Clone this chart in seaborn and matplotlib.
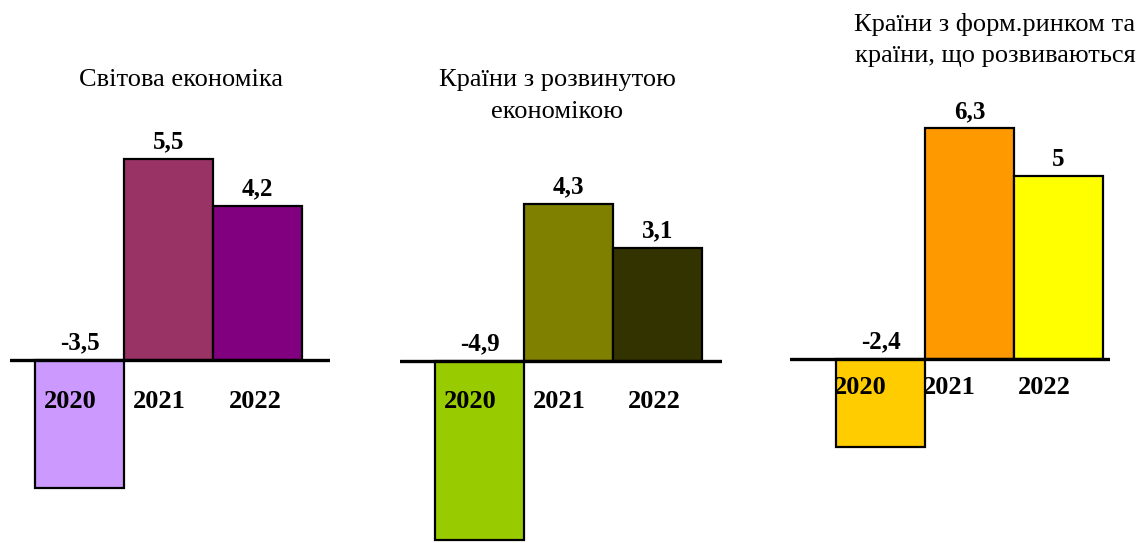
import matplotlib
matplotlib.use("Agg")
import matplotlib.pyplot as plt
import seaborn as sns
import pandas as pd

# ---- data ----
years = ["2020", "2021", "2022"]
world = [-3.5, 5.5, 4.2]
developed = [-4.9, 4.3, 3.1]
emerging = [-2.4, 6.3, 5.0]
value_labels_world = ["-3,5", "5,5", "4,2"]
value_labels_developed = ["-4,9", "4,3", "3,1"]
value_labels_emerging = ["-2,4", "6,3", "5"]
titles = ["Світова економіка",
          "Країни з розвинутою\nекономікою",
          "Країни з форм.ринком та\nкраїни, що розвиваються"]
colors_world = ["#CC99FF", "#993366", "#800080"]
colors_developed = ["#99CC00", "#808000", "#333300"]
colors_emerging = ["#FFCC00", "#FF9900", "#FFFF00"]

sns.set_theme(style="white")
plt.rcParams["font.family"] = ["Liberation Serif", "DejaVu Serif"]

W, H = 1145, 543
fig = plt.figure(figsize=(W / 100, H / 100), dpi=100)
fig.patch.set_facecolor("white")

PX_PER_UNIT = 36.6
BAR_PX = 89

panels = [
    dict(vals=world, labs=value_labels_world, cols=colors_world, title=titles[0],
         x0=10, x1=330, base=360, c0=79.5, yoff=[-0.1, -0.1, -0.03], ydrop=41,
         tx=181, ty=80),
    dict(vals=developed, labs=value_labels_developed, cols=colors_developed, title=titles[1],
         x0=400, x1=722, base=361, c0=479.5, yoff=[-0.1, -0.1, -0.04], ydrop=40,
         tx=557, ty=96),
    dict(vals=emerging, labs=value_labels_emerging, cols=colors_emerging, title=titles[2],
         x0=790, x1=1110, base=359, c0=880.5, yoff=[-0.23, -0.23, -0.16], ydrop=29,
         tx=995, ty=40),
]

for p in panels:
    ax = fig.add_axes([p["x0"] / W, 0, (p["x1"] - p["x0"]) / W, 1])
    df = pd.DataFrame({"year": years, "value": p["vals"]})
    sns.barplot(data=df, x="year", y="value", hue="year", palette=p["cols"],
                width=1.0, edgecolor="black", linewidth=1.6, legend=False,
                saturation=1, ax=ax)
    left = -(p["c0"] - p["x0"]) / BAR_PX
    right = left + (p["x1"] - p["x0"]) / BAR_PX
    ax.set_xlim(left, right)
    ylow = -(H - p["base"]) / PX_PER_UNIT
    yhigh = p["base"] / PX_PER_UNIT
    ax.set_ylim(ylow, yhigh)
    ax.axhline(0, color="black", linewidth=2.4, zorder=5)
    ax.axis("off")
    for i, (v, lab) in enumerate(zip(p["vals"], p["labs"])):
        ax.text(i, max(v, 0) + 17 / PX_PER_UNIT, lab, ha="center", va="center",
                fontsize=18, fontweight="bold", color="black")
        ax.text(i + p["yoff"][i], -p["ydrop"] / PX_PER_UNIT, years[i], ha="center",
                va="center", fontsize=19, fontweight="bold", color="black", zorder=6)
    fig.text(p["tx"] / W, 1 - p["ty"] / H, p["title"], ha="center", va="center",
             fontsize=19, linespacing=1.55, color="black")

fig.savefig("out.png", dpi=100, facecolor="white")
